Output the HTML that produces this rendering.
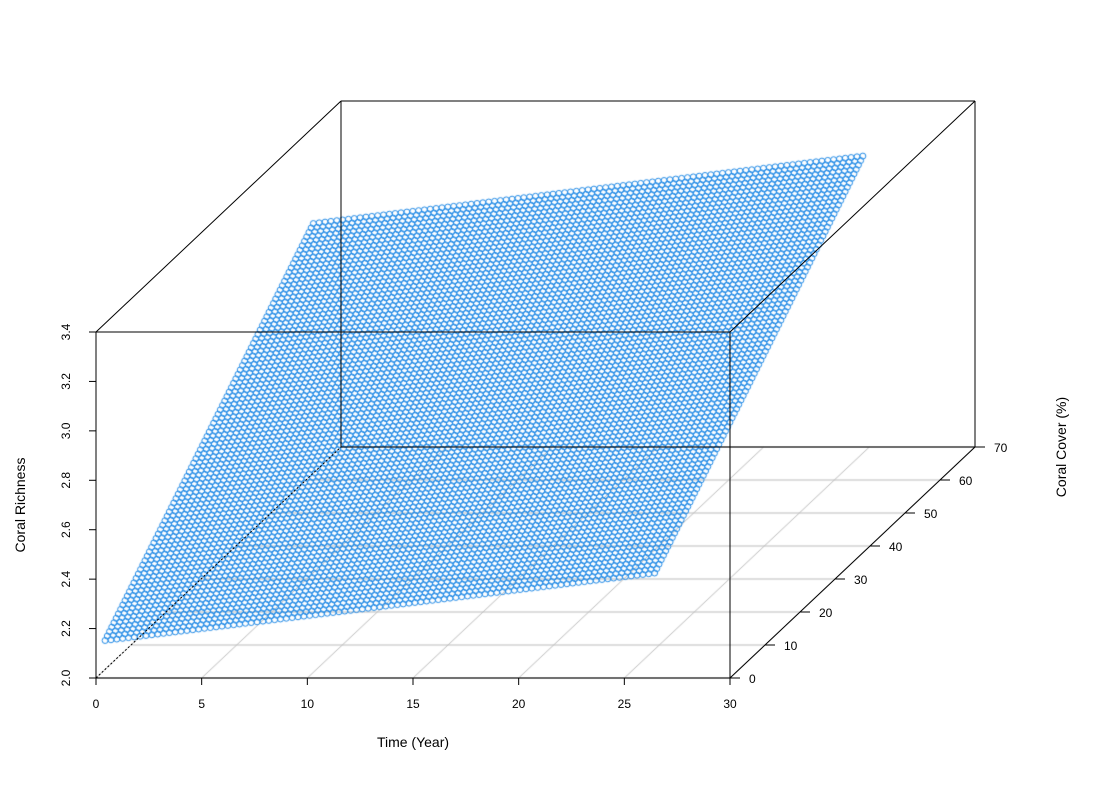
<!DOCTYPE html>
<html><head><meta charset="utf-8"><style>
html,body{margin:0;padding:0;background:#fff}
#wrap{position:relative;width:1100px;height:800px}
canvas,svg{position:absolute;left:0;top:0}
text{font-family:"Liberation Sans",Arial,sans-serif;fill:#000}
</style></head><body>
<div id="wrap">
<canvas id="pts" width="1100" height="800"></canvas>
<svg id="ax" width="1100" height="800"></svg>
</div>
<script>
// data
const timeRange=[0.1,26.1];
const coverRange=[2,61.5];
const planeCoef=[2.094,0.0105,0.0150];
const gridSteps=[95,95];
const xTicks=[0,5,10,15,20,25,30];
const yTicks=[0,10,20,30,40,50,60,70];
const zTicks=[2.0,2.2,2.4,2.6,2.8,3.0,3.2,3.4];

function px(x,y,z){return [96+x*(634/30)+y*(245/70), 678-(z-2)*(346/1.4)-y*(231/70)];}

const svg=document.getElementById('ax');const NS='http://www.w3.org/2000/svg';
function line(a,b,col,w,name,dash){const l=document.createElementNS(NS,'line');
l.setAttribute('x1',a[0]);l.setAttribute('y1',a[1]);l.setAttribute('x2',b[0]);l.setAttribute('y2',b[1]);
l.setAttribute('stroke',col);l.setAttribute('stroke-width',w);if(dash)l.setAttribute('stroke-dasharray',dash);


svg.appendChild(l);}
function text(x,y,s,name,rot,anchor,fs){const t=document.createElementNS(NS,'text');
t.setAttribute('x',x);t.setAttribute('y',y);t.setAttribute('font-size',fs||'12');t.setAttribute('text-anchor',anchor||'middle');
if(rot)t.setAttribute('transform','rotate('+rot+' '+x+' '+y+')');t.textContent=s;


svg.appendChild(t);}

const cv=document.getElementById('pts').getContext('2d');
cv.strokeStyle='#bbb';cv.lineWidth=1;
function cline(a,b){cv.beginPath();cv.moveTo(a[0],a[1]);cv.lineTo(b[0],b[1]);cv.stroke();}
yTicks.forEach(y=>cline(px(0,y,2),px(30,y,2)));
xTicks.forEach(x=>cline(px(x,0,2),px(x,70,2)));

// points
cv.strokeStyle='#1E88E5';cv.lineWidth=1;
const [nx,ny]=gridSteps;
for(let j=0;j<ny;j++){for(let i=0;i<nx;i++){
 const x=timeRange[0]+(timeRange[1]-timeRange[0])*i/(nx-1);
 const y=coverRange[0]+(coverRange[1]-coverRange[0])*j/(ny-1);
 const z=planeCoef[0]+planeCoef[1]*x+planeCoef[2]*y;
 const p=px(x,y,z);cv.beginPath();cv.arc(p[0],p[1],3,0,Math.PI*2);cv.stroke();}}

// box
const B=[[0,0,2],[30,0,2],[30,0,3.4],[0,0,3.4],[0,70,2],[30,70,2],[30,70,3.4],[0,70,3.4]].map(a=>px(...a));
[[0,1],[1,2],[2,3],[3,0],[4,5],[5,6],[6,7],[7,4],[2,6],[3,7],[1,5]].forEach(e=>line(B[e[0]],B[e[1]],'#000',1,'box-edge'));
line(B[0],B[4],'#000',1,'box-edge-hidden','2,2');

xTicks.forEach(x=>{const p=px(x,0,2);line(p,[p[0],p[1]+7],'#000',1,'x-tick');text(p[0],p[1]+30,String(x),'x-tick-label');});
zTicks.forEach(z=>{const p=px(0,0,z);line(p,[p[0]-7,p[1]],'#000',1,'z-tick');text(p[0]-26,p[1],z.toFixed(1),'z-tick-label',-90);});
yTicks.forEach(y=>{const p=px(30,y,2);line(p,[p[0]+10,p[1]],'#000',1,'y-tick');text(p[0]+19,p[1]+5,String(y),'y-tick-label',0,'start');});

text(413,747,'Time (Year)','x-axis-title',0,'middle','14');
text(25,505,'Coral Richness','z-axis-title',-90,'middle','14');
text(1066,447,'Coral Cover (%)','y-axis-title',-90,'middle','14');
</script>
</body></html>
